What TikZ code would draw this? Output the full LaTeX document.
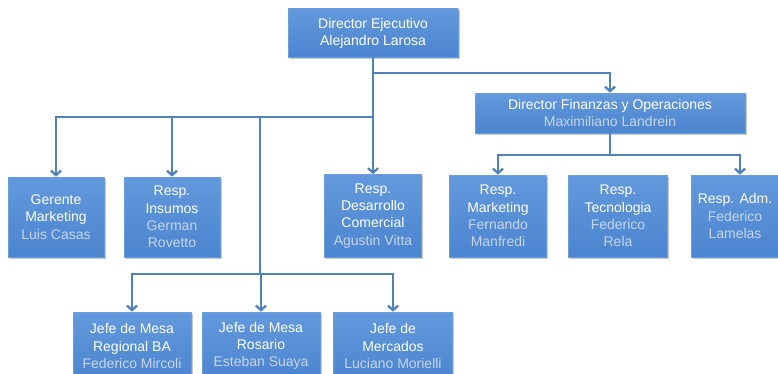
\documentclass[tikz,border=0pt]{standalone}
\usepackage{fontspec}
\setmainfont{Liberation Sans}
\usetikzlibrary{arrows.meta,shadows}
\definecolor{boxtop}{HTML}{6399DC}
\definecolor{boxbot}{HTML}{4B85CF}
\definecolor{boxedge}{HTML}{6C9EDC}
\definecolor{conn}{HTML}{4F81BD}
\definecolor{namec}{HTML}{C6D4E8}
\newcommand{\nm}[1]{\textcolor{namec}{#1}}
\begin{document}
\begin{tikzpicture}[x=1pt,y=1pt,
  font=\fontsize{14}{17.2}\selectfont,
  box/.style={draw=boxedge, line width=0.6pt, top color=boxtop, bottom color=boxbot,
    drop shadow={opacity=0.45, shadow xshift=1.5pt, shadow yshift=-1.8pt},
    align=center, text=white, inner sep=1pt},
  conn/.style={draw=conn, line width=2.8pt},
  arr/.style={conn, -{Straight Barb[length=4.5pt,width=10pt,line width=2.3pt]}}]
\useasboundingbox (0,0) rectangle (778,373);
\clip (0,0) rectangle (778,373);
% top level
\node[box, minimum width=170pt, minimum height=48pt] (DE) at (373,340) {Director Ejecutivo\\Alejandro Larosa};
\node[box, minimum width=270pt, minimum height=40pt] (DF) at (610,260) {Director Finanzas y Operaciones\\\nm{Maximiliano Landrein}};
% middle row
\node[box, minimum width=96pt, minimum height=80pt] (GM) at (56,156) {Gerente\\Marketing\\\nm{Luis Casas}};
\node[box, minimum width=96pt, minimum height=80pt] (RI) at (172,156) {Resp.\\Insumos\\\nm{German}\\\nm{Rovetto}};
\node[box, minimum width=97pt, minimum height=83pt] (RD) at (373,157) {Resp.\\Desarrollo\\Comercial\\\nm{Agustin Vitta}};
\node[box, minimum width=97pt, minimum height=82pt] (RM) at (498,157) {Resp.\\Marketing\\\nm{Fernando}\\\nm{Manfredi}};
\node[box, minimum width=99pt, minimum height=82pt] (RT) at (618,157) {Resp.\\Tecnologia\\\nm{Federico}\\\nm{Rela}};
\node[box, minimum width=98pt, minimum height=82pt] (RA) at (740,157) {\hspace*{-10pt}Resp. Adm.\\\hspace*{-10pt}\nm{Federico}\\\hspace*{-10pt}\nm{Lamelas}};
% bottom row
\node[box, minimum width=118pt, minimum height=68pt] (J1) at (132,27) {Jefe de Mesa\\Regional BA\\\nm{Federico Mircoli}};
\node[box, minimum width=118pt, minimum height=68pt] (J2) at (261,27) {Jefe de Mesa\\Rosario\\\nm{Esteban Suaya}};
\node[box, minimum width=119pt, minimum height=68pt] (J3) at (393,27) {Jefe de\\Mercados\\\nm{Luciano Morielli}};
% junctions
\coordinate (h1) at (373,300);
\coordinate (h2) at (373,256);
\coordinate (t) at (260,256);
\coordinate (h3) at (260,99);
\coordinate (fj) at (610,218);
% connectors
\draw[conn] (DE.south) -- (h2);
\draw[arr] (h1) -| (DF.north);
\draw[arr] (h2) -| (GM.north);
\draw[arr] (RI.north |- h2) -- (RI.north);
\draw[arr] (h2) -- (RD.north);
\draw[conn] (t) -- (h3);
\draw[arr] (h3) -| (J1.north);
\draw[arr] (h3) -| (J3.north);
\draw[arr] (J2.north |- h3) -- (J2.north);
\draw[conn] (DF.south) -- (fj);
\draw[arr] (fj) -| (RM.north);
\draw[arr] (fj) -| (RA.north);
\end{tikzpicture}
\end{document}
